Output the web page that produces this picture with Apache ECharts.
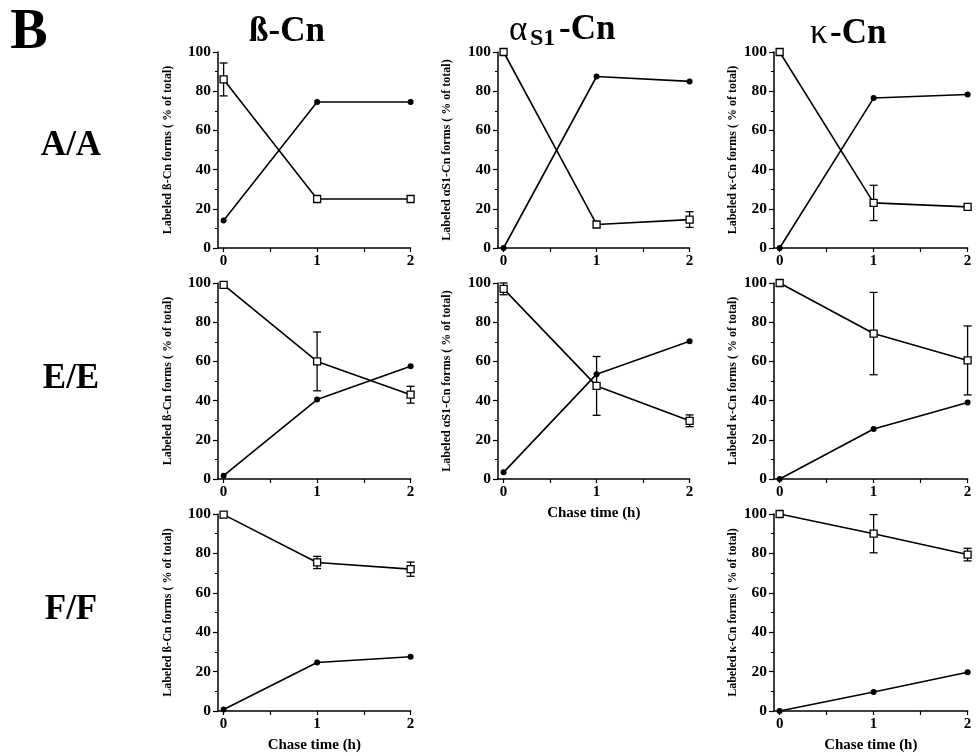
<!DOCTYPE html>
<html><head><meta charset="utf-8">
<script src="https://cdn.jsdelivr.net/npm/echarts@6/dist/echarts.min.js"></script>
<style>html,body{margin:0;padding:0;background:#fff}#c{width:979px;height:756px}</style>
</head><body><div id="c"></div>
<script>
// ---------- DATA ----------
const chaseTimes = [0, 1, 2];          // h
const xTickLabels = [0, 1, 2];
const xTickMarks = [0, 0.5, 1, 1.5, 2];

// β-Cn
const betaAA_open = [86, 25, 25];
const betaAA_openErr = [8.4, 0, 0];
const betaAA_filled = [14, 74.5, 74.5];

const betaEE_open = [99, 60, 43];
const betaEE_openErr = [0, 15, 4.3];
const betaEE_filled = [1.7, 40.5, 57.5];

const betaFF_open = [99.7, 75.4, 72];
const betaFF_openErr = [0, 3.1, 3.6];
const betaFF_filled = [0.8, 24.6, 27.5];

// αS1-Cn
const alphaAA_open = [100, 12, 14.5];
const alphaAA_openErr = [0, 0, 4];
const alphaAA_filled = [0, 87.5, 85];

const alphaEE_open = [97, 47.5, 29.7];
const alphaEE_openErr = [3, 15, 3];
const alphaEE_filled = [3.4, 53.5, 70.3];

// κ-Cn
const kappaAA_open = [100, 23, 21];
const kappaAA_openErr = [0, 9, 0];
const kappaAA_filled = [0, 76.5, 78.3];

const kappaEE_open = [100, 74.2, 60.5];
const kappaEE_openErr = [0, 21, 17.6];
const kappaEE_filled = [0, 25.5, 39];

const kappaFF_open = [100, 90, 79.4];
const kappaFF_openErr = [0, 9.7, 3.2];
const kappaFF_filled = [0, 9.6, 19.7];

const columnTitles = ['ß-Cn', 'αS1-Cn', 'κ-Cn'];
const rowLabels = ['A/A', 'E/E', 'F/F'];
const yNames = ['Labeled ß-Cn forms ( % of total)', 'Labeled αS1-Cn forms ( % of total)', 'Labeled κ-Cn forms ( % of total)'];
const xName = 'Chase time (h)';

// ---------- LAYOUT ----------
const FONT = '"Liberation Serif","Times New Roman",serif';
const colLeft = [218, 498, 774];
const colWidth = [192.6, 191.6, 193.6];
const colNameGap = [44, 45, 35];
const rowTop = [52, 283, 514];
const rowHeight = [196, 196, 197];

const panels = [
  {c:0, r:0, open:betaAA_open, err:betaAA_openErr, filled:betaAA_filled, xn:false},
  {c:1, r:0, open:alphaAA_open, err:alphaAA_openErr, filled:alphaAA_filled, xn:false},
  {c:2, r:0, open:kappaAA_open, err:kappaAA_openErr, filled:kappaAA_filled, xn:false},
  {c:0, r:1, open:betaEE_open, err:betaEE_openErr, filled:betaEE_filled, xn:false},
  {c:1, r:1, open:alphaEE_open, err:alphaEE_openErr, filled:alphaEE_filled, xn:true},
  {c:2, r:1, open:kappaEE_open, err:kappaEE_openErr, filled:kappaEE_filled, xn:false},
  {c:0, r:2, open:betaFF_open, err:betaFF_openErr, filled:betaFF_filled, xn:true},
  {c:2, r:2, open:kappaFF_open, err:kappaFF_openErr, filled:kappaFF_filled, xn:true}
];

const grid = [], xAxis = [], yAxis = [], series = [];
const black = '#000';
panels.forEach((p, i) => {
  grid.push({left: colLeft[p.c], top: rowTop[p.r], width: colWidth[p.c], height: rowHeight[p.r], containLabel:false, outerBoundsMode:'none'});
  xAxis.push({
    gridIndex:i, type:'value', min:-0.06, max:2,
    axisLine:{show:true, onZero:false, lineStyle:{color:black, width:1.5}},
    axisTick:{show:true, customValues:xTickMarks, length:4, lineStyle:{color:black, width:1.2}},
    axisLabel:{customValues:xTickLabels, color:black, fontFamily:FONT, fontWeight:'bold', fontSize:15, margin:6},
    splitLine:{show:false},
    name: p.xn ? xName : '', nameLocation:'middle', nameGap:27,
    nameTextStyle:{color:black, fontFamily:FONT, fontWeight:'bold', fontSize:15}
  });
  yAxis.push({
    gridIndex:i, type:'value', min:0, max:100, interval:20,
    axisLine:{show:true, onZero:false, lineStyle:{color:black, width:1.5}},
    axisTick:{show:true, length:5, lineStyle:{color:black, width:1.2}},
    minorTick:{show:true, splitNumber:2, length:3, lineStyle:{color:black, width:1}},
    axisLabel:{color:black, fontFamily:FONT, fontWeight:'bold', fontSize:15.5, margin:7},
    splitLine:{show:false}, minorSplitLine:{show:false},
    name: yNames[p.c], nameLocation:'middle', nameGap: colNameGap[p.c], nameRotate:90,
    nameTextStyle:{color:black, fontFamily:FONT, fontWeight:'bold', fontSize:12}
  });
  const errData = [];
  chaseTimes.forEach((t, k) => { if (p.err[k]) errData.push([t, p.open[k], p.err[k]]); });
  series.push({
    type:'custom', xAxisIndex:i, yAxisIndex:i, clip:false, z:1,
    data: errData,
    renderItem: function(params, api){
      const x = api.value(0), y = api.value(1), e = api.value(2);
      const t = api.coord([x, y + e]), b = api.coord([x, y - e]);
      const w = 4, st = {stroke:black, lineWidth:1.3};
      return {type:'group', children:[
        {type:'line', shape:{x1:t[0], y1:t[1], x2:b[0], y2:b[1]}, style:st},
        {type:'line', shape:{x1:t[0]-w, y1:t[1], x2:t[0]+w, y2:t[1]}, style:st},
        {type:'line', shape:{x1:b[0]-w, y1:b[1], x2:b[0]+w, y2:b[1]}, style:st}
      ]};
    }
  });
  series.push({
    type:'line', xAxisIndex:i, yAxisIndex:i, z:3,
    data: chaseTimes.map((t, k) => [t, p.filled[k]]),
    symbol:'circle', symbolSize:6, showSymbol:true,
    lineStyle:{color:black, width:1.6}, itemStyle:{color:black},
    emphasis:{disabled:true}, animation:false
  });
  series.push({
    type:'line', xAxisIndex:i, yAxisIndex:i, z:4,
    data: chaseTimes.map((t, k) => [t, p.open[k]]),
    symbol:'rect', symbolSize:7, showSymbol:true,
    lineStyle:{color:black, width:1.6}, itemStyle:{color:'#fff', borderColor:black, borderWidth:1.3},
    emphasis:{disabled:true}, animation:false
  });
});

const tf = (size, weight) => ({fontFamily:FONT, fontSize:size, fontWeight:weight, fill:black});
const graphic = [
  {type:'text', x:29, y:34, style:Object.assign({text:'B', align:'center', verticalAlign:'middle'}, tf(56,'bold'))},
  {type:'text', x:287, y:32, style:Object.assign({text:columnTitles[0], align:'center', verticalAlign:'middle'}, tf(35,'bold'))},
  {type:'text', x:509, y:31, style:Object.assign({text:'α', align:'left', verticalAlign:'middle'}, tf(35,'normal'))},
  {type:'text', x:530, y:39, style:Object.assign({text:'S1', align:'left', verticalAlign:'middle'}, tf(24,'bold'))},
  {type:'text', x:559, y:30, style:Object.assign({text:'-Cn', align:'left', verticalAlign:'middle'}, tf(35,'bold'))},
  {type:'text', x:810, y:34, style:Object.assign({text:'κ', align:'left', verticalAlign:'middle'}, tf(35,'normal'))},
  {type:'text', x:830, y:34, style:Object.assign({text:'-Cn', align:'left', verticalAlign:'middle'}, tf(35,'bold'))},
  {type:'text', x:71, y:146, style:Object.assign({text:rowLabels[0], align:'center', verticalAlign:'middle'}, tf(35,'bold'))},
  {type:'text', x:71, y:379, style:Object.assign({text:rowLabels[1], align:'center', verticalAlign:'middle'}, tf(35,'bold'))},
  {type:'text', x:71, y:610, style:Object.assign({text:rowLabels[2], align:'center', verticalAlign:'middle'}, tf(35,'bold'))}
];

const chart = echarts.init(document.getElementById('c'), null, {renderer:'canvas'});
chart.setOption({backgroundColor:'#fff', animation:false, grid, xAxis, yAxis, series, graphic});
</script></body></html>
